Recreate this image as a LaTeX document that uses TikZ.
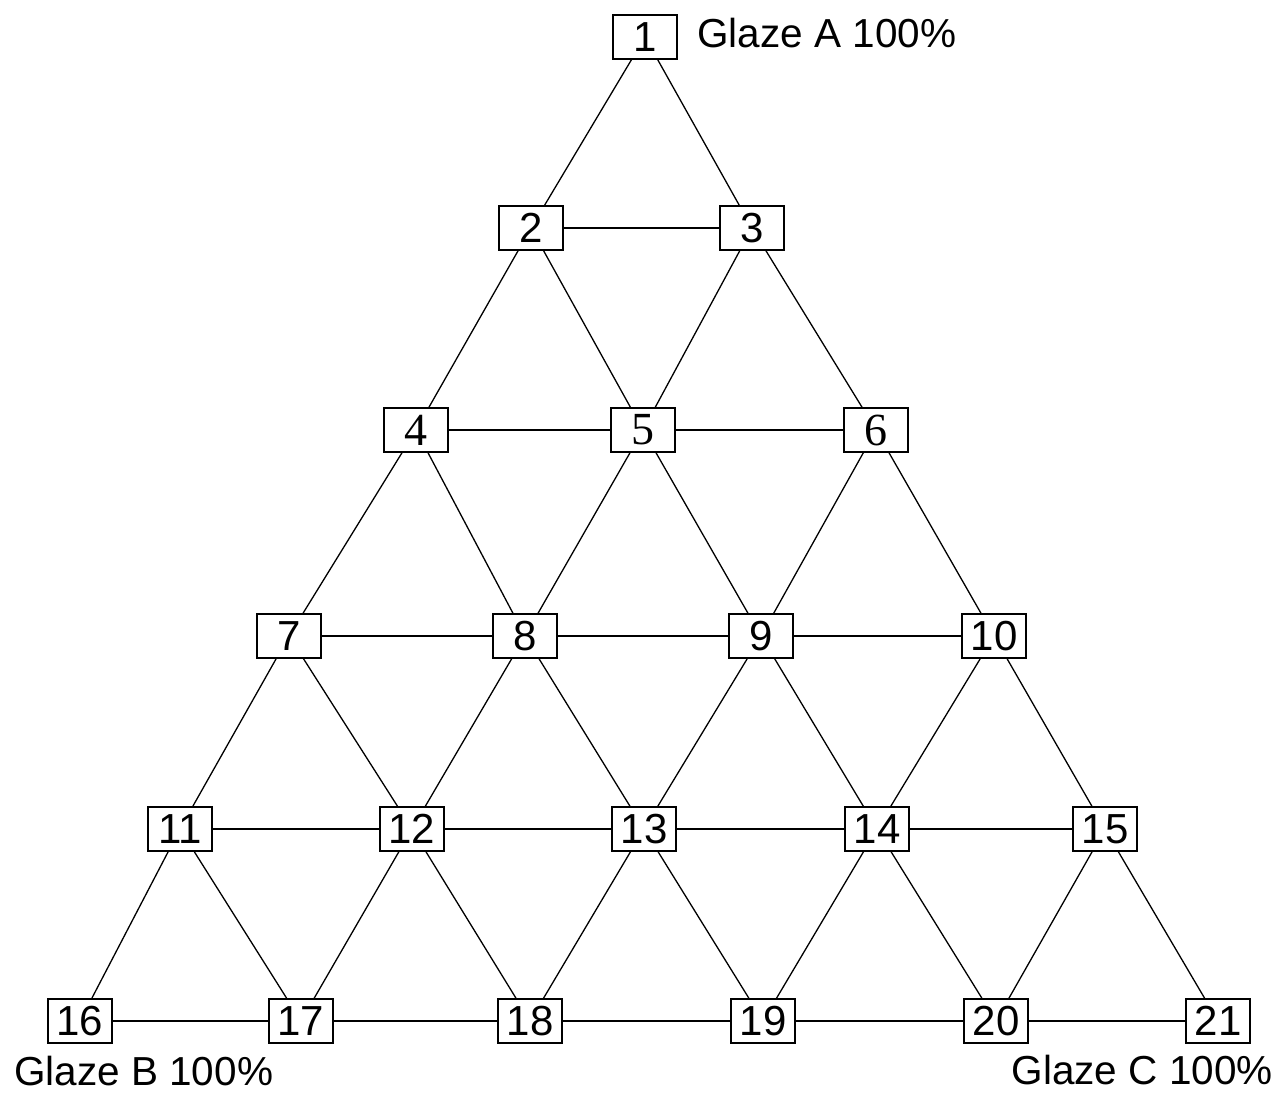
\documentclass[tikz,border=0pt]{standalone}
\usepackage{fontspec}
\setmainfont{Liberation Sans}
\newfontfamily\serifdig{Liberation Serif}
\newcommand\sdig[1]{{\serifdig\fontsize{46}{46}\selectfont #1}}
\begin{document}
\begin{tikzpicture}[x=1pt,y=-1pt,
  box/.style={draw=black,line width=1.6pt,fill=white,minimum width=64pt,minimum height=44pt,inner sep=0pt,font=\fontsize{42}{42}\selectfont},
  lab/.style={inner sep=0pt,font=\fontsize{40.5}{40.5}\selectfont},
  edge/.style={draw=black,line width=1.3pt}]
\useasboundingbox (0,0) rectangle (1279,1101);
\node[box] (n1) at (645,37) {1};
\node[box] (n2) at (531,228) {2};
\node[box] (n3) at (752,228) {3};
\node[box] (n4) at (416,430) {\sdig{4}};
\node[box] (n5) at (643,430) {\sdig{5}};
\node[box] (n6) at (876,430) {\sdig{6}};
\node[box] (n7) at (289,636) {7};
\node[box] (n8) at (525,636) {8};
\node[box] (n9) at (761,636) {9};
\node[box] (n10) at (994,636) {10};
\node[box] (n11) at (180,829) {11};
\node[box] (n12) at (412,829) {12};
\node[box] (n13) at (644,829) {13};
\node[box] (n14) at (877,829) {14};
\node[box] (n15) at (1105,829) {15};
\node[box] (n16) at (80,1021) {16};
\node[box] (n17) at (301,1021) {17};
\node[box] (n18) at (530,1021) {18};
\node[box] (n19) at (763,1021) {19};
\node[box] (n20) at (996,1021) {20};
\node[box] (n21) at (1218,1021) {21};
\node[lab,anchor=base west] (la) at (697,47) {Glaze A 100\%};
\node[lab,anchor=base west] (lb) at (14,1085) {Glaze B 100\%};
\node[lab,anchor=base east] (lc) at (1273,1084) {Glaze C 100\%};
\foreach \a/\b in {1/2,1/3,2/3,2/4,2/5,3/5,3/6,4/5,5/6,4/7,4/8,5/8,5/9,6/9,6/10,7/8,8/9,9/10,
  7/11,7/12,8/12,8/13,9/13,9/14,10/14,10/15,11/12,12/13,13/14,14/15,
  11/16,11/17,12/17,12/18,13/18,13/19,14/19,14/20,15/20,15/21,16/17,17/18,18/19,19/20,20/21}
  \draw[edge] (n\a) -- (n\b);
\end{tikzpicture}
\end{document}
